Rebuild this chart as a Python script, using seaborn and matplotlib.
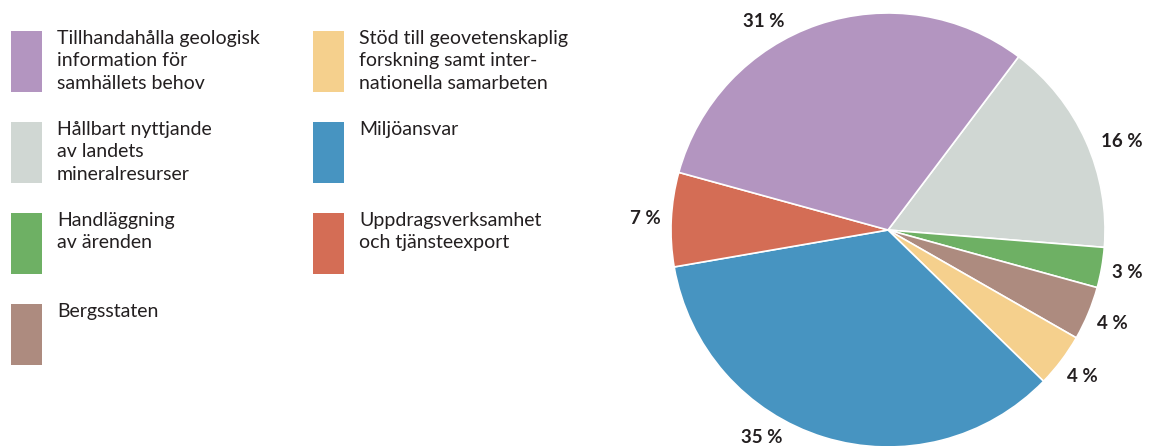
import matplotlib
matplotlib.use("Agg")
import numpy as np
import seaborn as sns
import matplotlib.pyplot as plt
from matplotlib.patches import Rectangle

# data (pie order, clockwise from the purple/gray boundary)
categories = ['Hållbart nyttjande\nav landets\nmineralresurser',
              'Handläggning\nav ärenden',
              'Bergsstaten',
              'Stöd till geovetenskaplig\nforskning samt inter-\nnationella samarbeten',
              'Miljöansvar',
              'Uppdragsverksamhet\noch tjänsteexport',
              'Tillhandahålla geologisk\ninformation för\nsamhällets behov']
shares = [16, 3, 4, 4, 35, 7, 31]
colors = ['#D0D7D3', '#6EB064', '#AD8B7F', '#F5D08D',
          '#4794C1', '#D46D55', '#B395C0']

# legend order (column 1 then column 2)
legend_order = [6, 0, 1, 2, 3, 4, 5]

sns.set_theme(style="white")
plt.rcParams['font.family'] = ['Lato', 'DejaVu Sans']
text_color = '#231f20'

fig = plt.figure(figsize=(11.52, 4.46), dpi=100)

# pie axes: center (888, 230) px, radius 217 px
W, H = 1152, 446
cx, cy, r = 888, 230, 217
ax = fig.add_axes([(cx - r) / W, (H - cy - r) / H, 2 * r / W, 2 * r / H])
wedges, _ = ax.pie(shares, colors=colors, startangle=53, counterclock=False,
                   radius=1, wedgeprops=dict(edgecolor='white', linewidth=1.2))
ax.set_xlim(-1, 1)
ax.set_ylim(-1, 1)
ax.set_aspect('equal')
ax.axis('off')

# percentage labels, nudged for the big slices
angle_shift = {0: -3.5, 4: -14, 6: 12}
dist_for = {0: 1.15}
for i, w in enumerate(wedges):
    mid = (w.theta1 + w.theta2) / 2 + angle_shift.get(i, 0)
    dist = dist_for.get(i, 1.12)
    x = dist * np.cos(np.radians(mid))
    y = dist * np.sin(np.radians(mid))
    ax.text(x, y, f"{shares[i]} %", ha='center', va='center',
            fontsize=13.5, fontweight='bold', color=text_color,
            clip_on=False)

# legend drawn in pixel coordinates
lax = fig.add_axes([0, 0, 1, 1])
lax.set_xlim(0, W)
lax.set_ylim(H, 0)
lax.axis('off')
col_x = [11, 313]
row_y = [31, 122, 213, 304]
for k, idx in enumerate(legend_order):
    col = 0 if k < 4 else 1
    row = k if k < 4 else k - 4
    x0, y0 = col_x[col], row_y[row]
    lax.add_patch(Rectangle((x0, y0), 31, 61, facecolor=colors[idx],
                            edgecolor='none'))
    lax.text(x0 + 46, y0 - 1, categories[idx], ha='left', va='top',
             fontsize=14, color=text_color, linespacing=1.38)

fig.savefig('out.png', dpi=100)
